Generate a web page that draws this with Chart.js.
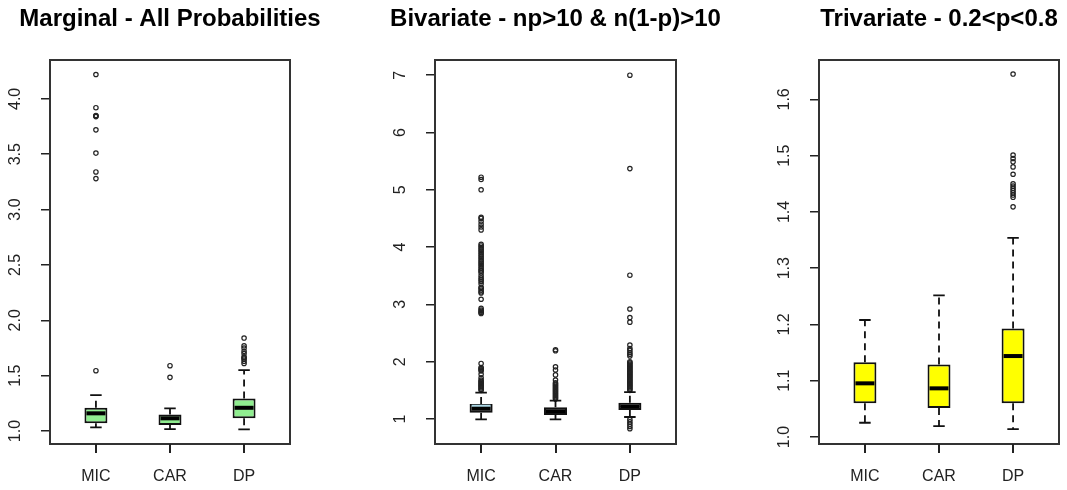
<!DOCTYPE html>
<html>
<head>
<meta charset="utf-8">
<script src="https://cdn.jsdelivr.net/npm/chart.js@4.4.0/dist/chart.umd.min.js"></script>
<style>
  body { margin: 0; background: #fff; overflow: hidden; }
  .panel { position: absolute; top: 0; height: 490px; }
</style>
</head>
<body>
<div class="panel" style="left:0;width:340px"><canvas id="marg"></canvas></div>
<div class="panel" style="left:375px;width:365px"><canvas id="biv"></canvas></div>
<div class="panel" style="left:760px;width:307px"><canvas id="triv"></canvas></div>
<script>
var groups = ["MIC", "CAR", "DP"];

// Marginal - All Probabilities
var margTickLabels = ["1.0", "1.5", "2.0", "2.5", "3.0", "3.5", "4.0"];
var margQ1 = [1.07, 1.055, 1.115];
var margMedian = [1.16, 1.115, 1.21];
var margQ3 = [1.21, 1.15, 1.295];
var margLow = [1.033, 1.018, 1.015];
var margHigh = [1.325, 1.205, 1.55];
var margOutMIC = [1.545, 3.28, 3.34, 3.51, 3.72, 3.84, 3.845, 3.85, 3.92, 4.22];
var margOutCAR = [1.485, 1.59];
var margOutDP = [1.61, 1.63, 1.65, 1.66, 1.67, 1.70, 1.72, 1.75, 1.77, 1.84];

// Bivariate - np>10 & n(1-p)>10
var bivTickLabels = ["1", "2", "3", "4", "5", "6", "7"];
var bivQ1 = [1.11, 1.07, 1.157];
var bivMedian = [1.232, 1.13, 1.22];
var bivQ3 = [1.262, 1.204, 1.285];
var bivLow = [0.995, 0.995, 1.035];
var bivHigh = [1.46, 1.32, 1.47];
var bivOutMIC = [1.50, 1.52, 1.54, 1.56, 1.58, 1.60, 1.62, 1.64, 1.66, 1.68, 1.72, 1.78,
  1.84, 1.86, 1.88, 1.90, 1.97, 2.84, 2.86, 2.88, 2.90, 2.93, 3.09, 3.20, 3.22, 3.25,
  3.28, 3.30, 3.36, 3.40, 3.43, 3.46, 3.50, 3.55, 3.58, 3.60, 3.63, 3.66, 3.69, 3.72,
  3.75, 3.78, 3.81, 3.84, 3.87, 3.90, 3.93, 3.96, 3.99, 4.02, 4.05, 4.30, 4.35, 4.40,
  4.45, 4.50, 4.52, 5.00, 5.18, 5.22];
var bivOutCAR = [1.35, 1.37, 1.39, 1.41, 1.43, 1.45, 1.47, 1.49, 1.51, 1.53, 1.55, 1.57,
  1.59, 1.61, 1.63, 1.68, 1.77, 1.855, 1.91, 2.19, 2.21];
var bivOutDP = [0.83, 0.87, 0.91, 0.95, 0.99, 1.50, 1.52, 1.54, 1.56, 1.58, 1.60, 1.62,
  1.64, 1.66, 1.68, 1.70, 1.72, 1.74, 1.76, 1.78, 1.80, 1.82, 1.84, 1.86, 1.88, 1.90,
  1.92, 1.94, 1.96, 1.98, 2.00, 2.10, 2.13, 2.16, 2.20, 2.23, 2.29, 2.69, 2.77, 2.92,
  3.51, 5.37, 7.00];

// Trivariate - 0.2<p<0.8
var trivTickLabels = ["1.0", "1.1", "1.2", "1.3", "1.4", "1.5", "1.6"];
var trivQ1 = [1.060, 1.0515, 1.060];
var trivMedian = [1.0954, 1.0865, 1.1439];
var trivQ3 = [1.1327, 1.129, 1.193];
var trivLow = [1.0254, 1.0195, 1.0142];
var trivHigh = [1.208, 1.2517, 1.354];
var trivOutMIC = [];
var trivOutCAR = [];
var trivOutDP = [1.409, 1.426, 1.430, 1.434, 1.438, 1.442, 1.446, 1.450, 1.467, 1.480,
  1.489, 1.495, 1.501, 1.645];

var FONT = "'Liberation Sans', Arial, sans-serif";

// whiskers, medians, frame, axis ticks, rotated y labels and centred title (R style)
var rBoxPlugin = {
  id: "rbox",
  afterDatasetsDraw: function (chart) {
    var o = chart.options.plugins.rbox;
    var ctx = chart.ctx;
    var x = chart.scales.x, y = chart.scales.y;
    var half = chart.getDatasetMeta(0).data[0].width / 2;
    ctx.save();
    ctx.strokeStyle = "#111";
    for (var i = 0; i < groups.length; i++) {
      var cx = x.getPixelForValue(i + 1);
      ctx.lineWidth = 1.8;
      ctx.setLineDash([7, 5]);
      ctx.beginPath();
      ctx.moveTo(cx, y.getPixelForValue(o.q3[i]));
      ctx.lineTo(cx, y.getPixelForValue(o.high[i]));
      ctx.moveTo(cx, y.getPixelForValue(o.q1[i]));
      ctx.lineTo(cx, y.getPixelForValue(o.low[i]));
      ctx.stroke();
      ctx.setLineDash([]);
      ctx.beginPath();
      ctx.moveTo(cx - half / 2, y.getPixelForValue(o.high[i]));
      ctx.lineTo(cx + half / 2, y.getPixelForValue(o.high[i]));
      ctx.moveTo(cx - half / 2, y.getPixelForValue(o.low[i]));
      ctx.lineTo(cx + half / 2, y.getPixelForValue(o.low[i]));
      ctx.stroke();
      ctx.lineWidth = o.medianWidth;
      ctx.strokeStyle = o.medianColors[i];
      ctx.beginPath();
      ctx.moveTo(cx - half + 2, y.getPixelForValue(o.median[i]));
      ctx.lineTo(cx + half - 2, y.getPixelForValue(o.median[i]));
      ctx.stroke();
      ctx.strokeStyle = "#111";
    }
    ctx.restore();
  },
  afterDraw: function (chart) {
    var o = chart.options.plugins.rbox;
    var ctx = chart.ctx;
    var a = chart.chartArea;
    var xs = chart.scales.x, ys = chart.scales.y;
    ctx.save();
    ctx.setLineDash([]);
    ctx.strokeStyle = "#333";
    ctx.lineWidth = 2;
    ctx.strokeRect(a.left, a.top, a.right - a.left, a.bottom - a.top);
    ctx.fillStyle = "#222";
    for (var k = 0; k < groups.length; k++) {
      var px = Math.round(xs.getPixelForValue(k + 1));
      ctx.fillRect(px - 1, a.bottom, 2, 9);
    }
    ctx.font = "16px " + FONT;
    ctx.textAlign = "center";
    ctx.textBaseline = "middle";
    o.tickLabels.forEach(function (t) {
      ctx.save();
      ctx.translate(a.left - 34, ys.getPixelForValue(parseFloat(t)));
      ctx.rotate(-Math.PI / 2);
      ctx.fillText(t, 0, 0);
      ctx.restore();
    });
    ctx.fillStyle = "#000";
    ctx.font = "bold 24px " + FONT;
    ctx.fillText(o.title, (a.left + a.right) / 2, 19);
    ctx.restore();
  }
};

function makeBoxChart(id, title, tickLabels, yMin, yMax, q1, med, q3, low, high, outs, fill, medianColors, medianWidth, yAxisWidth, padRight) {
  var boxes = groups.map(function (g, i) {
    return { x: i + 1, y: [q1[i], q3[i]] };
  });
  var points = [];
  outs.forEach(function (list, i) {
    list.forEach(function (v) { points.push({ x: i + 1, y: v }); });
  });
  return new Chart(document.getElementById(id), {
    type: "bar",
    data: {
      datasets: [
        {
          data: boxes,
          backgroundColor: fill,
          borderColor: "#111",
          borderWidth: 2,
          borderSkipped: false,
          barPercentage: 0.31,
          categoryPercentage: 1,
          order: 1
        },
        {
          type: "scatter",
          data: points,
          pointStyle: "circle",
          pointRadius: 2.2,
          pointBorderWidth: 1.2,
          pointBorderColor: "#222",
          pointBackgroundColor: "rgba(255,255,255,0)",
          order: 0
        }
      ]
    },
    options: {
      responsive: true,
      maintainAspectRatio: false,
      animation: false,
      layout: { padding: { top: 60, right: padRight, bottom: 0, left: 0 } },
      scales: {
        x: {
          type: "linear",
          min: 0.38,
          max: 3.62,
          offset: false,
          afterBuildTicks: function (s) {
            s.ticks = groups.map(function (g, i) { return { value: i + 1 }; });
          },
          afterFit: function (s) { s.height = 46; },
          ticks: {
            autoSkip: false,
            maxRotation: 0,
            padding: 15,
            color: "#222",
            font: { family: FONT, size: 16 },
            callback: function (v) { return groups[v - 1]; }
          },
          grid: { display: false },
          border: { display: false }
        },
        y: {
          min: yMin,
          max: yMax,
          afterBuildTicks: function (s) {
            s.ticks = tickLabels.map(function (t) { return { value: parseFloat(t) }; });
          },
          afterFit: function (s) { s.width = yAxisWidth; },
          ticks: { display: false },
          grid: { drawOnChartArea: false, tickLength: 9, color: "#222", lineWidth: 1.5 },
          border: { display: false }
        }
      },
      plugins: {
        legend: { display: false },
        tooltip: { enabled: false },
        rbox: {
          title: title,
          tickLabels: tickLabels,
          q1: q1, q3: q3, median: med, low: low, high: high,
          medianColors: medianColors,
          medianWidth: medianWidth
        }
      }
    },
    plugins: [rBoxPlugin]
  });
}

makeBoxChart("marg", "Marginal - All Probabilities", margTickLabels, 0.883, 4.351,
  margQ1, margMedian, margQ3, margLow, margHigh, [margOutMIC, margOutCAR, margOutDP],
  "#90EE90", ["#000", "#000", "#000"], 4, 50, 50);

makeBoxChart("biv", "Bivariate - np>10 & n(1-p)>10", bivTickLabels, 0.564, 7.265,
  bivQ1, bivMedian, bivQ3, bivLow, bivHigh, [bivOutMIC, bivOutCAR, bivOutDP],
  "#000", ["#ADD8E6", "#000", "#000"], 2, 60, 64);

makeBoxChart("triv", "Trivariate - 0.2<p<0.8", trivTickLabels, 0.9876, 1.670,
  trivQ1, trivMedian, trivQ3, trivLow, trivHigh, [trivOutMIC, trivOutCAR, trivOutDP],
  "#FFFF00", ["#000", "#000", "#000"], 4, 59, 8);
</script>
</body>
</html>
